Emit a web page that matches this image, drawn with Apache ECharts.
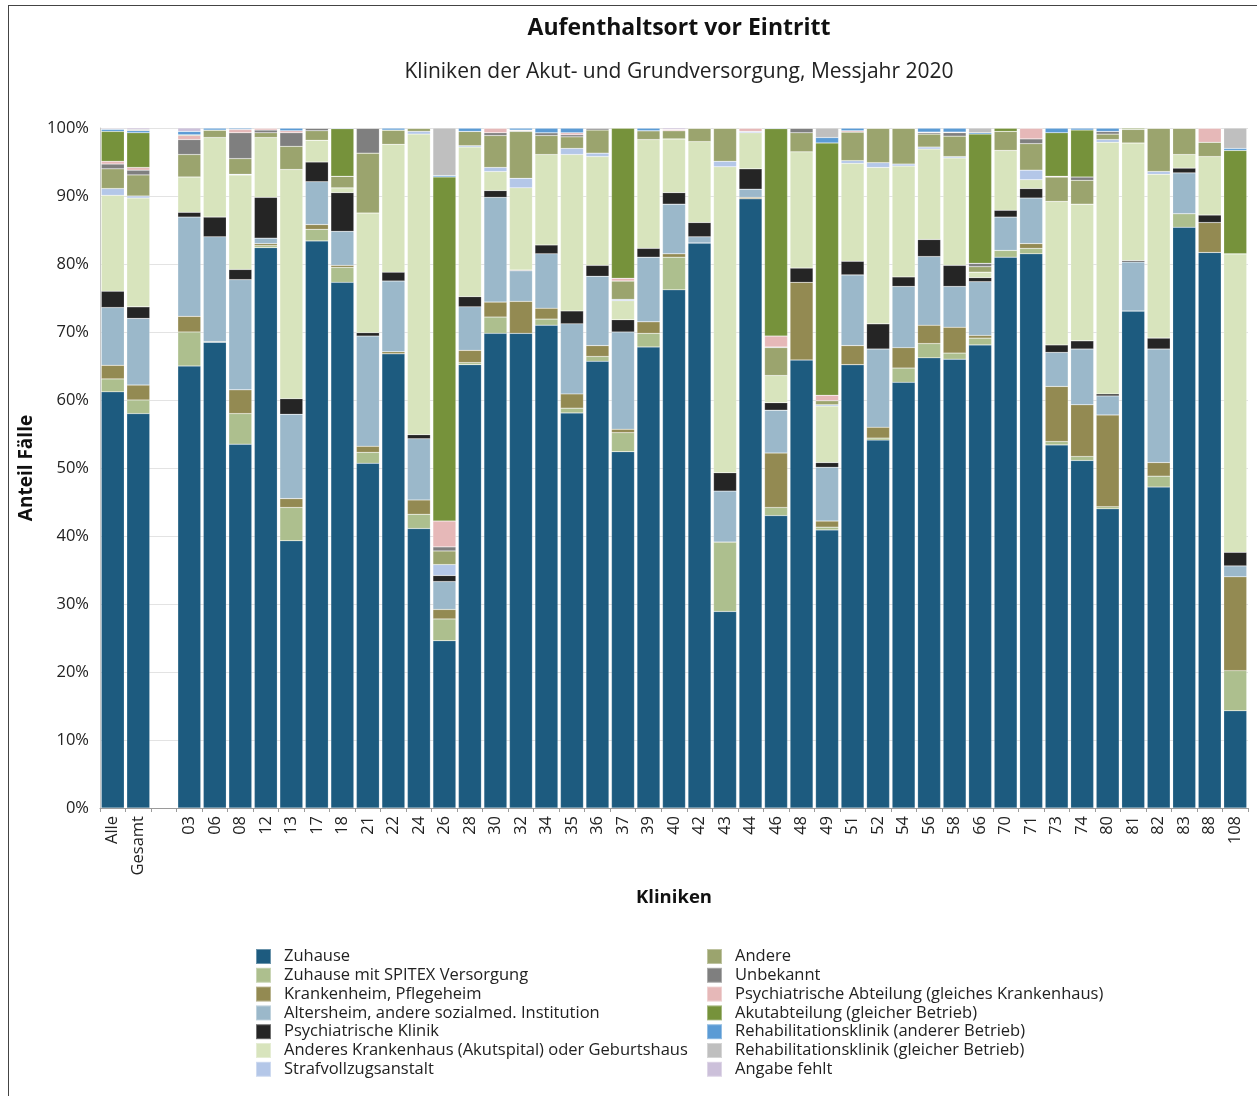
<!DOCTYPE html>
<html>
<head>
<meta charset="utf-8">
<script src="https://cdn.jsdelivr.net/npm/echarts@6/dist/echarts.min.js"></script>
<style>
  html, body { margin: 0; padding: 0; background: #fff; }
  #frame { position: absolute; left: 8px; top: 5px; width: 1249px; height: 1091px;
           border-left: 1px solid #444; border-top: 1px solid #444; box-sizing: border-box; }
  #chart { position: absolute; left: 0; top: 0; width: 1257px; height: 1096px; }
</style>
</head>
<body>
<div id="frame"></div>
<div id="chart"></div>
<script>
// Kliniken (empty slot separates the summary bars from the individual clinics)
const kliniken = ['Alle','Gesamt','','03','06','08','12','13','17','18','21','22','24','26','28','30','32','34','35','36','37','39','40','42','43','44','46','48','49','51','52','54','56','58','66','70','71','73','74','80','81','82','83','88','108'];

// Anteil Fälle in % je Aufenthaltsort
const zuhause        = [61.2,58.0,null,65.0,68.5,53.5,82.4,39.3,83.4,77.3,50.7,66.8,41.1,24.6,65.2,69.8,69.8,71.0,58.1,65.7,52.4,67.8,76.2,83.1,28.9,89.6,43.0,65.9,40.9,65.2,54.1,62.6,66.2,66.0,68.1,81.0,81.5,53.4,51.1,44.0,73.1,47.2,85.4,81.7,14.3];
const zuhauseSpitex  = [1.9,2.0,null,5.0,0,4.5,0.3,4.9,1.7,2.2,1.6,0,2.1,3.2,0.3,2.4,0,0.9,0.7,0.7,2.8,2.0,4.8,0,10.2,0,1.2,0,0.4,0,0.3,2.1,2.1,0.9,1.0,1.0,0.8,0.5,0.6,0.3,0,1.6,2.0,0,5.9];
const krankenheim    = [2.0,2.2,null,2.3,0.1,3.5,0.3,1.3,0.7,0.3,0.9,0.3,2.1,1.4,1.8,2.2,4.7,1.6,2.1,1.6,0.5,1.7,0.5,0,0,0.2,8.0,11.4,0.9,2.8,1.6,3.0,2.7,3.8,0.4,0,0.7,8.1,7.6,13.5,0,2.0,0,4.4,13.8];
const altersheim     = [8.5,9.8,null,14.6,15.4,16.2,0.8,12.4,6.3,5.0,16.2,10.4,9.0,4.1,6.4,15.4,4.5,8.0,10.3,10.2,14.3,9.5,7.3,0.9,7.5,1.2,6.3,0,7.9,10.4,11.5,9.0,10.1,6.0,7.9,4.9,6.7,5.0,8.2,2.8,7.2,16.7,6.0,0,1.6];
const psychKlinik    = [2.4,1.7,null,0.7,2.9,1.5,6.0,2.3,2.9,5.7,0.5,1.3,0.6,0.9,1.5,1.0,0.1,1.3,1.9,1.6,1.8,1.3,1.7,2.1,2.7,3.0,1.1,2.1,0.7,2.0,3.7,1.4,2.5,3.1,0.6,1.0,1.4,1.1,1.2,0.3,0.2,1.6,0.7,1.1,2.0];
const andKrankenhaus = [14.1,16.0,null,5.2,11.7,13.9,8.8,33.7,3.2,0.7,17.6,18.8,44.2,0,22.0,2.8,12.1,13.3,23.0,16.0,2.8,16.0,7.9,11.9,45.0,5.3,4.0,17.1,8.3,14.4,23.0,16.3,13.3,15.8,0.8,8.8,1.3,21.1,20.1,37.0,17.3,24.1,2.0,8.6,43.9];
const strafvollzug   = [1.0,0.3,null,0,0,0.1,0,0,0,0,0,0,0.4,1.6,0.2,0.6,1.4,0,0.9,0.5,0.2,0,0,0,0.8,0.2,0,0,0.2,0.4,0.7,0.3,0.3,0.2,0,0,1.4,0,0,0.4,0,0.4,0,0,0];
const andere         = [2.9,3.1,null,3.3,1.1,2.3,0.7,3.4,1.4,1.7,8.8,2.1,0.5,2.0,2.1,4.7,6.9,2.8,1.7,3.4,2.7,1.3,1.2,2.0,4.9,0,4.1,2.8,0.6,4.2,5.1,5.3,1.9,3.0,0.8,2.8,3.9,3.6,3.5,0.8,2.0,6.4,3.9,2.1,0];
const unbekannt      = [0.7,0.7,null,2.2,0,3.8,0.4,2.0,0.4,0,3.7,0,0,0.6,0,0.4,0.1,0.4,0.3,0.3,0,0,0,0,0,0,0.1,0.7,0,0,0,0,0.2,0.5,0.5,0,0.7,0,0.5,0.4,0,0,0,0,0];
const psychAbteilung = [0.4,0.4,null,0.6,0,0.5,0.3,0.3,0,0,0,0,0,3.8,0,0.7,0.1,0,0.3,0,0.4,0,0.2,0,0,0.5,1.6,0,0.8,0.2,0,0,0.1,0.1,0,0,1.6,0.1,0,0,0,0,0,2.1,0];
const akutabteilung  = [4.4,5.1,null,0.1,0,0,0,0,0,7.0,0,0,0,50.6,0,0,0,0,0,0,22.1,0,0,0,0,0,30.5,0,37.1,0,0,0,0,0,19.0,0.5,0,6.4,6.9,0,0.2,0,0,0,15.2];
const rehaAnderer    = [0.3,0.3,null,0.5,0.3,0.2,0,0.4,0,0.1,0,0.3,0,0.2,0.5,0,0.3,0.7,0.7,0,0,0.4,0,0,0,0,0.1,0,0.8,0.4,0,0,0.6,0.6,0.2,0,0,0.7,0.3,0.5,0,0,0,0,0.3];
const rehaGleicher   = [0.1,0.2,null,0,0,0,0,0,0,0,0,0,0,7.0,0,0,0,0,0,0,0,0,0,0,0,0,0,0,1.4,0,0,0,0,0,0.7,0,0,0,0,0,0,0,0,0,3.0];
const angabeFehlt    = [0.1,0.2,null,0.5,0,0,0,0,0,0,0,0,0,0,0,0,0,0,0,0,0,0,0.2,0,0,0,0,0,0,0,0,0,0,0,0,0,0,0,0,0,0,0,0,0,0];

const yTicks = [0,10,20,30,40,50,60,70,80,90,100];

const reihen = [
  ['Zuhause', zuhause, '#1d5b7f'],
  ['Zuhause mit SPITEX Versorgung', zuhauseSpitex, '#adbf8e'],
  ['Krankenheim, Pflegeheim', krankenheim, '#938a52'],
  ['Altersheim, andere sozialmed. Institution', altersheim, '#9bb8ca'],
  ['Psychiatrische Klinik', psychKlinik, '#252525'],
  ['Anderes Krankenhaus (Akutspital) oder Geburtshaus', andKrankenhaus, '#d8e4bd'],
  ['Strafvollzugsanstalt', strafvollzug, '#b4c7e8'],
  ['Andere', andere, '#9ba46e'],
  ['Unbekannt', unbekannt, '#7f7f7f'],
  ['Psychiatrische Abteilung (gleiches Krankenhaus)', psychAbteilung, '#e6b8b8'],
  ['Akutabteilung (gleicher Betrieb)', akutabteilung, '#76923b'],
  ['Rehabilitationsklinik (anderer Betrieb)', rehaAnderer, '#5b9bd5'],
  ['Rehabilitationsklinik (gleicher Betrieb)', rehaGleicher, '#bfbfbf'],
  ['Angabe fehlt', angabeFehlt, '#ccc0da']
];

const FONT = 'Open Sans';
const chart = echarts.init(document.getElementById('chart'), null, { renderer: 'canvas' });

const legendText = { fontFamily: FONT, fontSize: 16.5, color: '#222', lineHeight: 15, padding: [0, 0, 0, 8] };
const legendBase = {
  orient: 'vertical', top: 948, height: 148, padding: 0,
  itemWidth: 15, itemHeight: 15, itemGap: 1.8,
  icon: 'rect', textStyle: legendText, selectedMode: false
};

chart.setOption({
  animation: false,
  color: reihen.map(r => r[2]),
  title: [
    { text: 'Aufenthaltsort vor Eintritt', left: 674, top: 12, textAlign: 'center',
      textStyle: { fontFamily: FONT, fontSize: 23, fontWeight: 'bold', color: '#111' } },
    { text: 'Kliniken der Akut- und Grundversorgung, Messjahr 2020', left: 674, top: 57, textAlign: 'center',
      textStyle: { fontFamily: FONT, fontSize: 21, fontWeight: 'normal', color: '#222' } }
  ],
  legend: [
    Object.assign({ left: 255, data: reihen.slice(0, 7).map(r => r[0]) }, legendBase),
    Object.assign({ left: 706, data: reihen.slice(7).map(r => r[0]) }, legendBase)
  ],
  grid: { left: 100, right: 9, top: 128, bottom: 288, containLabel: false },
  xAxis: {
    type: 'category',
    data: kliniken,
    name: 'Kliniken',
    nameLocation: 'middle',
    nameGap: 80,
    nameTextStyle: { fontFamily: FONT, fontSize: 18.5, fontWeight: 'bold', color: '#111' },
    axisLine: { lineStyle: { color: '#9a9a9a', width: 1 } },
    axisTick: { show: true, length: 4, lineStyle: { color: '#9a9a9a' } },
    axisLabel: { rotate: 90, interval: 0, fontFamily: FONT, fontSize: 16.5, color: '#222', margin: 8 }
  },
  yAxis: {
    type: 'value',
    min: yTicks[0], max: yTicks[yTicks.length - 1], interval: 10,
    name: 'Anteil Fälle',
    nameLocation: 'middle',
    nameGap: 59,
    nameTextStyle: { fontFamily: FONT, fontSize: 19, fontWeight: 'bold', color: '#111' },
    axisLine: { show: true, lineStyle: { color: '#c8c8c8' } },
    axisTick: { show: false },
    splitLine: { lineStyle: { color: '#e3e3e3', width: 1 } },
    axisLabel: { formatter: '{value}%', fontFamily: FONT, fontSize: 16.5, color: '#222', margin: 11 }
  },
  series: reihen.map(r => ({
    name: r[0],
    type: 'bar',
    stack: 'anteil',
    data: r[1],
    barCategoryGap: '10%',
    itemStyle: { color: r[2], borderColor: 'rgba(255,255,255,0.35)', borderWidth: 0.5 },
    emphasis: { disabled: true }
  }))
});
</script>
</body>
</html>
